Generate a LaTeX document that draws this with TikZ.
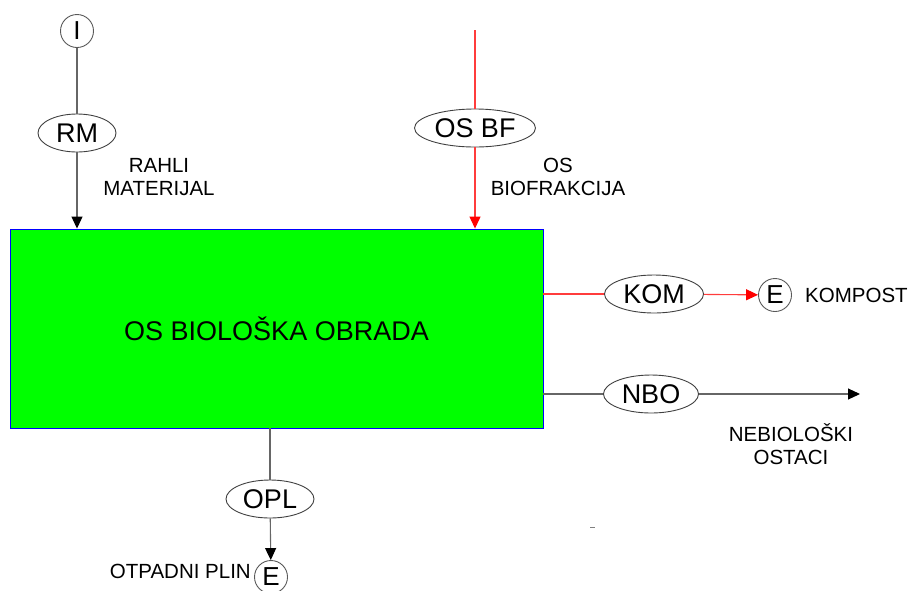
\documentclass[tikz,border=0pt]{standalone}
\usepackage{fontspec}
\setmainfont{Liberation Sans}
\usetikzlibrary{arrows.meta, positioning, shapes.geometric}
\definecolor{procgreen}{RGB}{0,255,0}
\definecolor{flowred}{RGB}{255,60,60}

\begin{document}
\begin{tikzpicture}[
    x=1pt, y=-1pt,
    stream/.style={ellipse, draw=black!75, line width=0.9pt, minimum height=38pt, inner sep=0pt, font=\fontsize{27}{30}\selectfont},
    terminal/.style={circle, draw=black!65, line width=0.9pt, minimum size=33pt, inner sep=0pt, font=\fontsize{26}{30}\selectfont},
    process/.style={rectangle, draw=blue, fill=procgreen, line width=0.9pt, minimum width=533pt, minimum height=199pt, font=\fontsize{27}{30}\selectfont},
    flow/.style={draw=black!60, line width=1.1pt},
    feed/.style={flow, -{Triangle[length=12pt, width=11pt, color=black]}},
    redflow/.style={draw=flowred, line width=1.1pt},
    redfeed/.style={redflow, -{Triangle[length=12pt, width=11pt, color=red]}},
    note/.style={font=\fontsize{20.5}{23}\selectfont, align=center, inner sep=0pt},
]
\useasboundingbox (0,0) rectangle (912,590);

% Process block
\node[process] (obrada) at (276.5,328.5) {OS BIOLOŠKA OBRADA};

% Inputs
\node[terminal] (ulaz) at (77,31) {I};
\node[stream, minimum width=78pt] (rm) at (77,133) {RM};
\coordinate (osbftop) at (475,30);
\node[stream, minimum width=121pt] (osbf) at (475,128) {OS BF};

% Outputs
\node[stream, minimum width=99pt] (kom) at (654,294) {KOM};
\node[terminal] (e1) at (775,295) {E};
\node[stream, minimum width=95pt] (nbo) at (651,394) {NBO};
\coordinate (nboend) at (860,394);
\node[stream, minimum width=88pt] (opl) at (270,499) {OPL};
\node[terminal] (e2) at (271,577) {E};

% Labels
\node[note] (rahli) at (159,177) {RAHLI\\MATERIJAL};
\node[note] (biofr) at (558,177) {OS\\BIOFRAKCIJA};
\node[note, anchor=west] (kompost) at (805,295) {KOMPOST};
\node[note] (nebio) at (791,444) {NEBIOLOŠKI\\OSTACI};
\node[note, anchor=east] (plin) at (251,571) {OTPADNI PLIN};

% Connections
\draw[flow] (ulaz) -- (rm);
\draw[feed] (rm) -- (rm |- obrada.north);
\draw[redflow] (osbftop) -- (osbf);
\draw[redfeed] (osbf) -- (osbf |- obrada.north);
\draw[redflow] (obrada.east |- kom) -- (kom);
\draw[redfeed] (kom) -- (e1);
\draw[flow] (obrada.east |- nbo) -- (nbo);
\draw[feed] (nbo) -- (nboend);
\draw[flow] (opl |- obrada.south) -- (opl);
\draw[feed] (opl) -- (e2);

% stray mark
\draw[black!50, line width=1pt] (590,527) -- (595,527);

\end{tikzpicture}
\end{document}
